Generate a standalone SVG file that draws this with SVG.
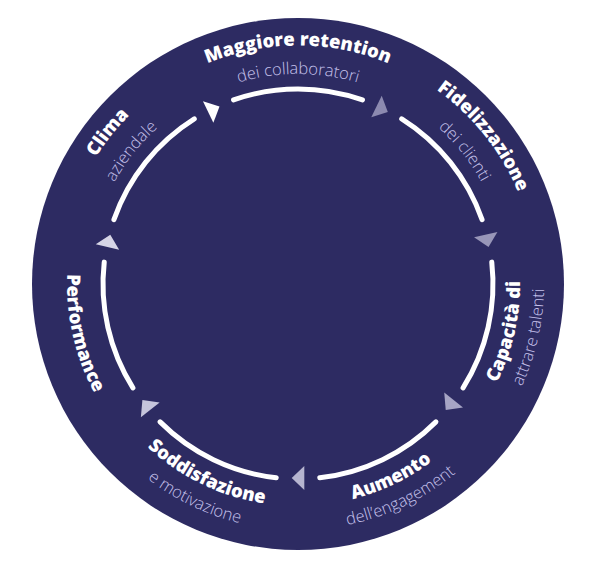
<svg xmlns="http://www.w3.org/2000/svg" xmlns:xlink="http://www.w3.org/1999/xlink" width="600" height="569" viewBox="0 0 600 569">
<style>
.t{font-family:"Open Sans","Liberation Sans",sans-serif;font-weight:800;font-size:18.5px;fill:#ffffff;text-anchor:middle}
.s{font-family:"Open Sans","Liberation Sans",sans-serif;font-weight:300;font-size:16.5px;fill:#c6c2ec;text-anchor:middle}
.ring{fill:none;stroke:#ffffff;stroke-width:5;stroke-linecap:round}
</style>
<defs>
<path id="cwT" d="M60.41 263.2 A238.5 238.5 0 0 1 535.59 263.2"/>
<path id="cwS" d="M88.8 265.69 A210 210 0 0 1 507.2 265.69"/>
<path id="ccT" d="M76.84 303.36 A222 222 0 0 0 519.16 303.36"/>
<path id="ccS" d="M52.93 305.45 A246 246 0 0 0 543.07 305.45"/>
<path id="ccP" d="M67.88 304.14 A231 231 0 0 0 528.12 304.14"/>
<path id="arc" class="ring" d="M233.55 99.96 A195 195 0 0 1 362.45 99.96"/>
<polygon id="tri" points="480,277.7 504,277.7 492,290.3"/>
</defs>
<circle cx="298" cy="284" r="266" fill="#2d2b62"/>
<g id="connectors">
<use xlink:href="#arc"/>
<use xlink:href="#arc" transform="rotate(51.43 298 284)"/>
<use xlink:href="#arc" transform="rotate(102.86 298 284)"/>
<use xlink:href="#arc" transform="rotate(154.29 298 284)"/>
<use xlink:href="#arc" transform="rotate(205.71 298 284)"/>
<use xlink:href="#arc" transform="rotate(257.14 298 284)"/>
<use xlink:href="#arc" transform="rotate(308.57 298 284)"/>
<use xlink:href="#tri" fill="#ffffff" transform="rotate(-115.71 298 284)"/>
<use xlink:href="#tri" fill="#8c8ab0" transform="rotate(-64.29 298 284)"/>
<use xlink:href="#tri" fill="#9896b8" transform="rotate(-12.86 298 284)"/>
<use xlink:href="#tri" fill="#a6a4c4" transform="rotate(38.57 298 284)"/>
<use xlink:href="#tri" fill="#b6b5d0" transform="rotate(90 298 284)"/>
<use xlink:href="#tri" fill="#c6c5dc" transform="rotate(141.43 298 284)"/>
<use xlink:href="#tri" fill="#d6d5e6" transform="rotate(192.86 298 284)"/>
</g>
<g id="node-retention">
<text class="t"><textPath xlink:href="#cwT" startOffset="50%">Maggiore retention</textPath></text>
<text class="s"><textPath xlink:href="#cwS" startOffset="50%">dei collaboratori</textPath></text>
</g>
<g id="node-fidelizzazione" transform="rotate(51.43 298 284)">
<text class="t"><textPath xlink:href="#cwT" startOffset="50%">Fidelizzazione</textPath></text>
<text class="s"><textPath xlink:href="#cwS" startOffset="50%">dei clienti</textPath></text>
</g>
<g id="node-capacita" transform="rotate(-77.14 298 284)">
<text class="t"><textPath xlink:href="#ccT" startOffset="50%">Capacità di</textPath></text>
<text class="s"><textPath xlink:href="#ccS" startOffset="50%">attrare talenti</textPath></text>
</g>
<g id="node-aumento" transform="rotate(-25.71 298 284)">
<text class="t"><textPath xlink:href="#ccT" startOffset="50%">Aumento</textPath></text>
<text class="s"><textPath xlink:href="#ccS" startOffset="50%">dell’engagement</textPath></text>
</g>
<g id="node-soddisfazione" transform="rotate(25.71 298 284)">
<text class="t"><textPath xlink:href="#ccT" startOffset="50%">Soddisfazione</textPath></text>
<text class="s"><textPath xlink:href="#ccS" startOffset="50%">e motivazione</textPath></text>
</g>
<g id="node-performance" transform="rotate(77.14 298 284)">
<text class="t"><textPath xlink:href="#ccP" startOffset="50%">Performance</textPath></text>
</g>
<g id="node-clima" transform="rotate(-51.43 298 284)">
<text class="t"><textPath xlink:href="#cwT" startOffset="50%">Clima</textPath></text>
<text class="s"><textPath xlink:href="#cwS" startOffset="50%">aziendale</textPath></text>
</g>
</svg>
